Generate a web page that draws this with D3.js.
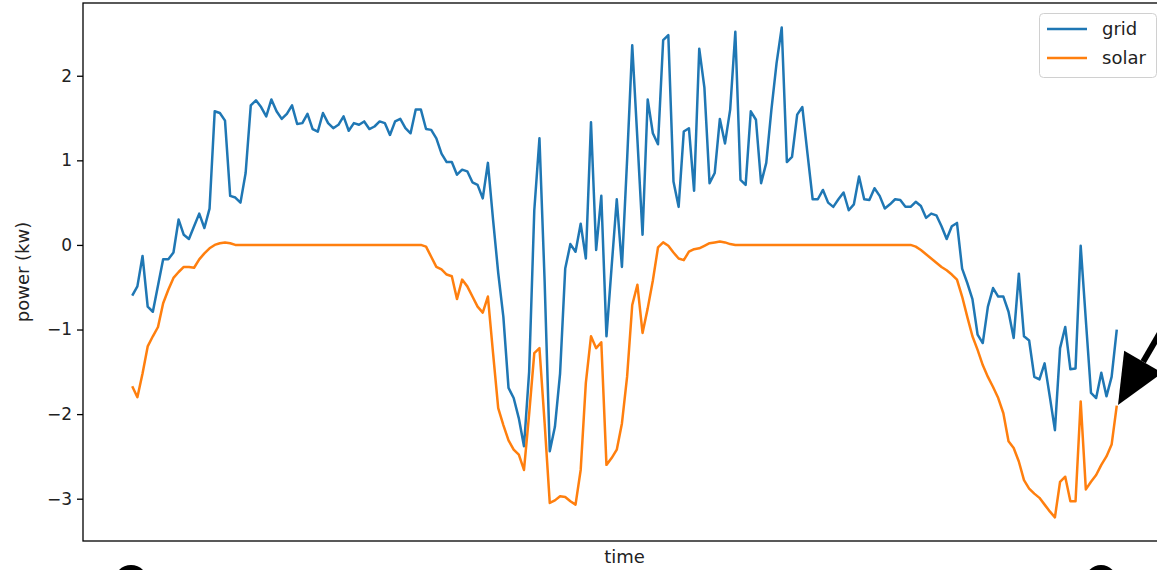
<!DOCTYPE html>
<html>
<head>
<meta charset="utf-8">
<script src="https://cdn.jsdelivr.net/npm/d3@7"></script>
<style>
  body { margin: 0; background: #fff; }
  text { font-family: "DejaVu Sans", sans-serif; }
</style>
</head>
<body>
<div id="chart"></div>
<script>
// power readings, one per time step
const grid = [
  -0.60, -0.49, -0.13, -0.73, -0.79, -0.48, -0.17, -0.17, -0.09, 0.30, 0.12, 0.07,
  0.22, 0.37, 0.20, 0.43, 1.58, 1.56, 1.47, 0.58, 0.56, 0.50, 0.85, 1.65,
  1.71, 1.63, 1.52, 1.72, 1.58, 1.49, 1.55, 1.65, 1.43, 1.44, 1.55, 1.37,
  1.34, 1.56, 1.44, 1.38, 1.42, 1.52, 1.35, 1.44, 1.42, 1.46, 1.37, 1.40,
  1.46, 1.44, 1.30, 1.46, 1.49, 1.38, 1.32, 1.60, 1.60, 1.37, 1.36, 1.26,
  1.08, 0.98, 0.98, 0.83, 0.89, 0.87, 0.74, 0.71, 0.55, 0.97, 0.30, -0.33,
  -0.85, -1.69, -1.81, -2.05, -2.38, -1.50, 0.41, 1.26, -0.42, -2.44, -2.15, -1.52,
  -0.28, 0.01, -0.08, 0.25, -0.16, 1.45, -0.06, 0.58, -1.08, -0.26, 0.54, -0.26,
  1.00, 2.36, 1.25, 0.12, 1.72, 1.32, 1.19, 2.42, 2.48, 0.75, 0.45, 1.34,
  1.38, 0.64, 2.32, 1.86, 0.73, 0.85, 1.49, 1.20, 1.60, 2.52, 0.77, 0.71,
  1.58, 1.48, 0.73, 0.97, 1.60, 2.15, 2.57, 0.98, 1.04, 1.54, 1.63, 1.08,
  0.54, 0.54, 0.65, 0.50, 0.45, 0.54, 0.62, 0.41, 0.48, 0.81, 0.54, 0.53,
  0.67, 0.58, 0.43, 0.48, 0.54, 0.53, 0.45, 0.45, 0.51, 0.46, 0.32, 0.37,
  0.35, 0.22, 0.07, 0.22, 0.26, -0.28, -0.45, -0.64, -1.06, -1.16, -0.73, -0.51,
  -0.61, -0.61, -0.79, -1.10, -0.34, -1.08, -1.13, -1.56, -1.59, -1.40, -1.79, -2.19,
  -1.22, -0.97, -1.47, -1.46, -0.01, -0.89, -1.75, -1.81, -1.51, -1.79, -1.56, -1.00
];

const solar = [
  -1.67, -1.80, -1.52, -1.20, -1.08, -0.97, -0.69, -0.53, -0.39, -0.32, -0.26, -0.26,
  -0.27, -0.17, -0.10, -0.04, 0.00, 0.02, 0.03, 0.02, 0.00, 0, 0, 0,
  0, 0, 0, 0, 0, 0, 0, 0, 0, 0, 0, 0,
  0, 0, 0, 0, 0, 0, 0, 0, 0, 0, 0, 0,
  0, 0, 0, 0, 0, 0, 0, 0, 0, -0.02, -0.14, -0.26,
  -0.29, -0.35, -0.37, -0.64, -0.41, -0.49, -0.61, -0.73, -0.80, -0.61, -1.28, -1.93,
  -2.13, -2.31, -2.42, -2.48, -2.66, -2.00, -1.28, -1.22, -2.10, -3.05, -3.02, -2.97,
  -2.98, -3.03, -3.07, -2.66, -1.63, -1.08, -1.22, -1.15, -2.60, -2.52, -2.42, -2.11,
  -1.56, -0.71, -0.47, -1.04, -0.75, -0.42, -0.03, 0.03, -0.01, -0.09, -0.16, -0.18,
  -0.08, -0.05, -0.04, -0.01, 0.02, 0.03, 0.04, 0.03, 0.01, 0, 0, 0,
  0, 0, 0, 0, 0, 0, 0, 0, 0, 0, 0, 0,
  0, 0, 0, 0, 0, 0, 0, 0, 0, 0, 0, 0,
  0, 0, 0, 0, 0, 0, 0, 0, -0.02, -0.06, -0.11, -0.16,
  -0.21, -0.26, -0.30, -0.35, -0.41, -0.61, -0.85, -1.08, -1.24, -1.42, -1.56, -1.68,
  -1.81, -1.99, -2.32, -2.40, -2.56, -2.78, -2.88, -2.94, -2.99, -3.07, -3.15, -3.22,
  -2.80, -2.74, -3.03, -3.03, -1.85, -2.89, -2.80, -2.72, -2.60, -2.50, -2.36, -1.90
];

const seriesNames = ["grid", "solar"];
const seriesColors = ["#1f77b4", "#ff7f0e"];
const yTicks = [-3, -2, -1, 0, 1, 2];

const WIDTH = 1157;
const HEIGHT = 570;
// axes box (right side runs past the picture edge)
const axL = 83, axR = 1166, axT = 3, axB = 541;

const svg = d3.select("#chart").append("svg")
  .attr("width", WIDTH)
  .attr("height", HEIGHT);

const n = grid.length;
const pad = (n - 1) * 0.05;
const x = d3.scaleLinear().domain([-pad, n - 1 + pad]).range([axL, axR]);
const y = d3.scaleLinear().domain([-3.5, 2.86]).range([axB, axT]);

// y axis
const yAxis = svg.append("g")
  .attr("transform", `translate(${axL},0)`)
  .call(d3.axisLeft(y)
    .tickValues(yTicks)
    .tickSize(6)
    .tickPadding(5)
    .tickFormat(d => d < 0 ? "\u2212" + Math.abs(d) : d));
yAxis.select(".domain").remove();
yAxis.selectAll(".tick line").attr("stroke", "#000").attr("stroke-width", 1.3);
yAxis.selectAll(".tick text")
  .attr("font-size", 17)
  .attr("font-family", "DejaVu Sans, sans-serif")
  .attr("fill", "#222");

// lines
const line = d3.line().x((d, i) => x(i)).y(d => y(d));
[grid, solar].forEach((s, k) => {
  svg.append("path")
    .datum(s)
    .attr("fill", "none")
    .attr("stroke", seriesColors[k])
    .attr("stroke-width", 2.5)
    .attr("stroke-linejoin", "round")
    .attr("d", line);
});

// frame
svg.append("rect")
  .attr("x", axL)
  .attr("y", axT)
  .attr("width", axR - axL)
  .attr("height", axB - axT)
  .attr("fill", "none")
  .attr("stroke", "#000")
  .attr("stroke-width", 1.3);

// axis labels
svg.append("text")
  .attr("x", (axL + axR) / 2)
  .attr("y", 563)
  .attr("text-anchor", "middle")
  .attr("font-size", 18)
  .attr("fill", "#222")
  .text("time");

svg.append("text")
  .attr("transform", `translate(29,${(axT + axB) / 2}) rotate(-90)`)
  .attr("text-anchor", "middle")
  .attr("font-size", 18)
  .attr("fill", "#222")
  .text("power (kw)");

// legend
const legend = svg.append("g");
legend.append("rect")
  .attr("x", 1039.5)
  .attr("y", 13.5)
  .attr("width", 117)
  .attr("height", 64)
  .attr("rx", 4)
  .attr("fill", "#fff")
  .attr("fill-opacity", 0.8)
  .attr("stroke", "#d0d0d0");

seriesNames.forEach((name, k) => {
  const ly = 29 + k * 29;
  legend.append("line")
    .attr("x1", 1047).attr("x2", 1087)
    .attr("y1", ly).attr("y2", ly)
    .attr("stroke", seriesColors[k])
    .attr("stroke-width", 2.5);
  legend.append("text")
    .attr("x", 1102)
    .attr("y", ly + 6)
    .attr("font-size", 18)
    .attr("fill", "#222")
    .text(name);
});

// hand-drawn annotations: arrow to last solar point and two dots below
const tip = [1118, 405];
const dir = [-0.504, 0.865];
const L = 50, W = 22;
const base = [tip[0] - L * dir[0], tip[1] - L * dir[1]];
const perp = [0.865, 0.504];

svg.append("line")
  .attr("x1", base[0]).attr("y1", base[1])
  .attr("x2", base[0] - 80 * dir[0]).attr("y2", base[1] - 80 * dir[1])
  .attr("stroke", "#000")
  .attr("stroke-width", 6);

svg.append("path")
  .attr("d", `M${tip[0]},${tip[1]} L${base[0] + W * perp[0]},${base[1] + W * perp[1]} L${base[0] - W * perp[0]},${base[1] - W * perp[1]} Z`)
  .attr("fill", "#000");

svg.append("circle").attr("cx", 131).attr("cy", 582).attr("r", 17).attr("fill", "#000");
svg.append("circle").attr("cx", 1101).attr("cy", 581).attr("r", 16).attr("fill", "#000");
</script>
</body>
</html>
